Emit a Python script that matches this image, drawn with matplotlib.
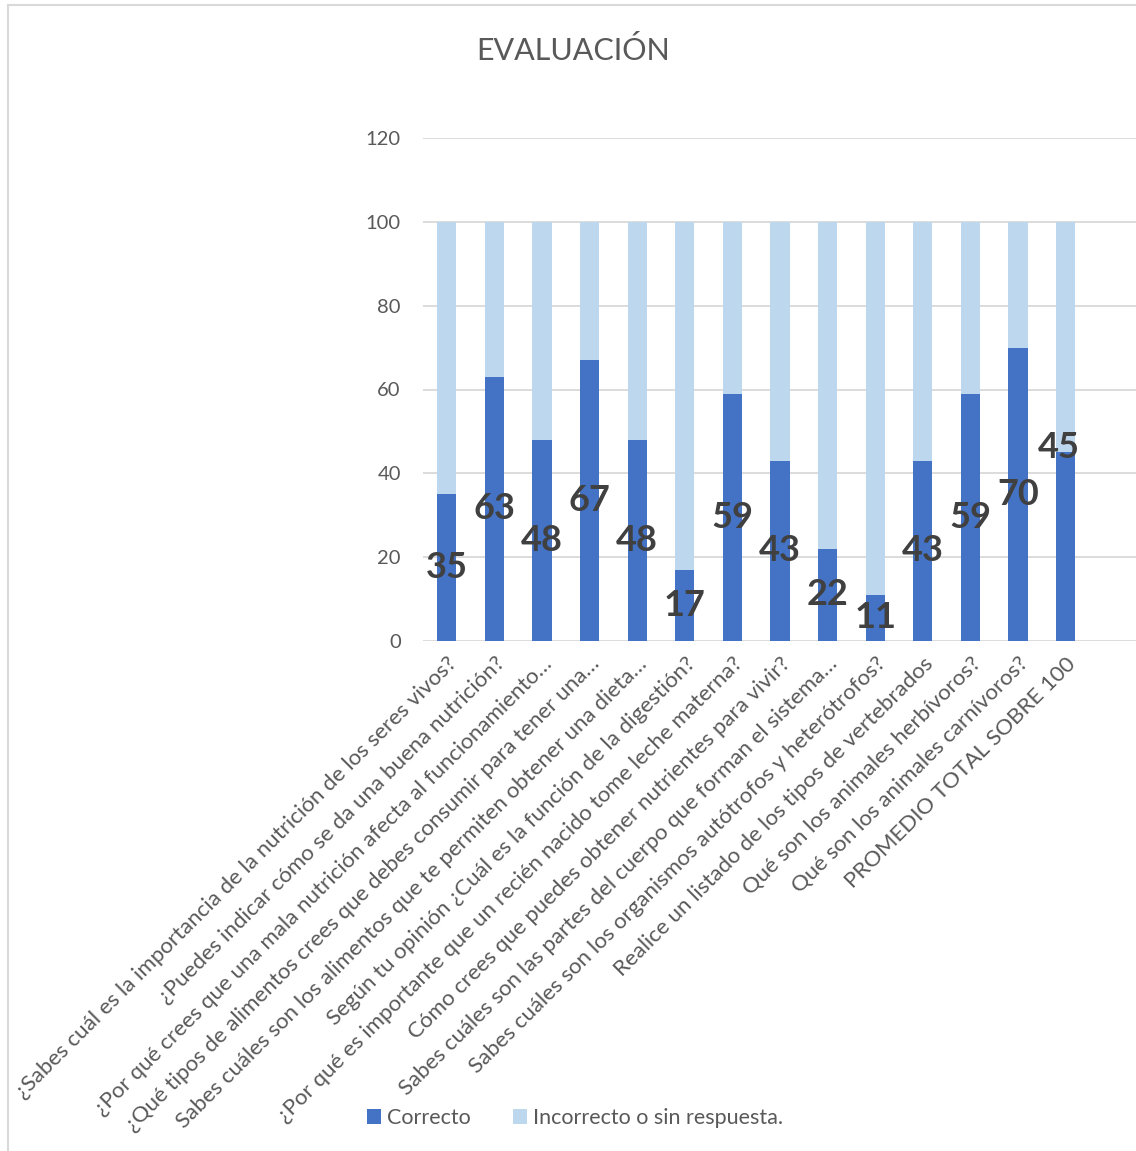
import numpy as np
import matplotlib.pyplot as plt
from matplotlib.lines import Line2D

plt.rcParams['font.family'] = ['Lato', 'DejaVu Sans']

categories = [
    "¿Sabes cuál es la importancia de la nutrición de los seres vivos?",
    "¿Puedes indicar cómo se da una buena nutrición?",
    "¿Por qué crees que una mala nutrición afecta al funcionamiento…",
    "¿Qué tipos de alimentos crees que debes consumir para tener una…",
    "Sabes cuáles son los alimentos que te permiten obtener una dieta…",
    "Según tu opinión ¿Cuál es la función de la digestión?",
    "¿Por qué es importante que un recién nacido tome leche materna?",
    "Cómo crees que puedes obtener nutrientes para vivir?",
    "Sabes cuáles son las partes del cuerpo que forman el sistema…",
    "Sabes cuáles son los organismos autótrofos y heterótrofos?",
    "Realice un listado de los tipos de vertebrados",
    "Qué son los animales herbívoros?",
    "Qué son los animales carnívoros?",
    "PROMEDIO TOTAL SOBRE 100",
]
correcto = [35, 63, 48, 67, 48, 17, 59, 43, 22, 11, 43, 59, 70, 45]
incorrecto = [65, 37, 52, 33, 52, 83, 41, 57, 78, 89, 57, 41, 30, 55]
yticks = [0, 20, 40, 60, 80, 100, 120]

dark = "#4472C4"
light = "#BDD7EE"
grey = "#595959"

W, H = 1136, 1151
fig = plt.figure(figsize=(W / 100, H / 100), dpi=100)
ax = fig.add_axes([423 / W, 1 - 641 / H, (W + 1 - 423) / W, (641 - 138) / H])

x = np.arange(len(categories))
ax.bar(x, correcto, width=0.4, color=dark, label="Correcto", zorder=3)
ax.bar(x, incorrecto, width=0.4, bottom=correcto, color=light,
       label="Incorrecto o sin respuesta.", zorder=3)

# data labels centred in the "Correcto" segment; the total sits at the bar top
for xi, v in zip(x, correcto):
    if xi == len(correcto) - 1:
        ax.annotate(str(v), (xi, v), xytext=(-5, 3.5), textcoords="offset points",
                    ha="center", va="center", fontsize=26, fontweight="bold",
                    color="#404040", zorder=4)
    else:
        ax.text(xi, v / 2, str(v), ha="center", va="center", fontsize=26,
                fontweight="bold", color="#404040", zorder=4)

ax.set_xlim(-0.5, 14.5)
ax.set_ylim(0, 120)
ax.set_yticks(yticks)
ax.set_yticklabels([str(t) for t in yticks], fontsize=14.5, color=grey)
ax.set_xticks(x)
ax.set_xticklabels(categories, rotation=45, ha="right", rotation_mode="anchor",
                   fontsize=16, color=grey)
ax.tick_params(axis="y", length=0, pad=16)
ax.tick_params(axis="x", length=0, pad=9)
ax.grid(axis="y", color="#D9D9D9", linewidth=1.3, zorder=0)
for s in ax.spines.values():
    s.set_visible(False)

fig.text(573 / W, 1 - 50 / H, "EVALUACIÓN", ha="center", va="center",
         fontsize=22, color=grey)

leg = fig.legend(loc="center", bbox_to_anchor=(575 / W, 1 - 1118 / H), ncol=2,
                 frameon=False, fontsize=15.5, handlelength=0.65, handleheight=0.65,
                 columnspacing=2.0, handletextpad=0.25)
for t in leg.get_texts():
    t.set_color(grey)

# chart border (only left and top visible in the crop)
fig.add_artist(Line2D([8 / W, 8 / W], [0, 1 - 5 / H], color="#D9D9D9", linewidth=1.5))
fig.add_artist(Line2D([8 / W, 1], [1 - 5 / H, 1 - 5 / H], color="#D9D9D9", linewidth=1.5))

fig.savefig("out.png", dpi=100, facecolor="white")
